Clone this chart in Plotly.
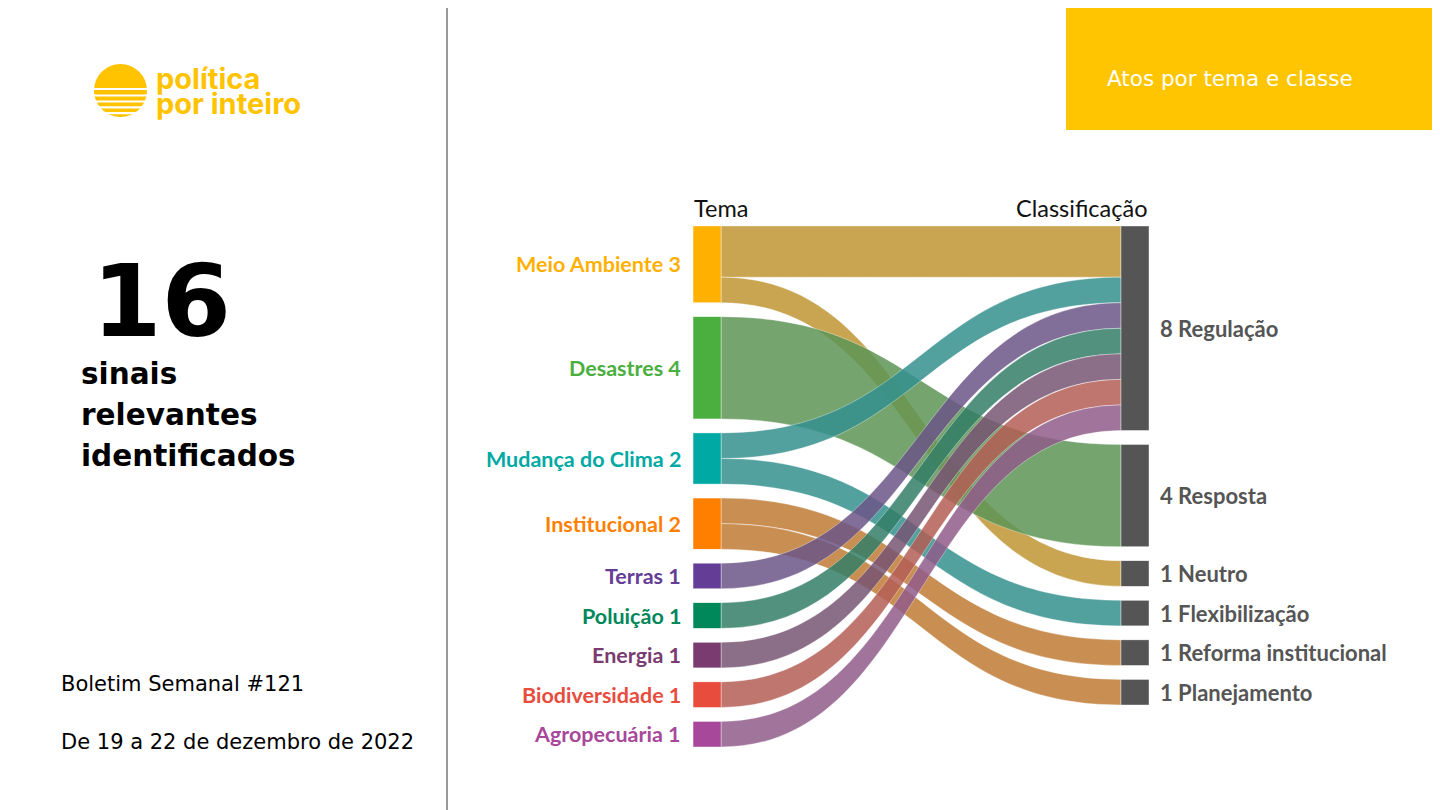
import plotly.graph_objects as go

# page offset of the plot div (browser body margin) and figure size
OFF = 8
W, H = 1440 - OFF, 810 - OFF

# ---------------- data ----------------
temas = ["Meio Ambiente", "Desastres", "Mudança do Clima", "Institucional", "Terras",
         "Poluição", "Energia", "Biodiversidade", "Agropecuária"]
tema_cores = ["#FFB000", "#4AAF3E", "#00A9A3", "#FF7F00", "#643D96",
              "#00875A", "#7A3C70", "#E84C3D", "#A8489A"]
classes = ["Regulação", "Resposta", "Neutro", "Flexibilização",
           "Reforma institucional", "Planejamento"]
classe_cor = "#555555"

link_source = ["Meio Ambiente", "Meio Ambiente", "Desastres", "Mudança do Clima", "Mudança do Clima",
               "Institucional", "Institucional", "Terras", "Poluição", "Energia",
               "Biodiversidade", "Agropecuária"]
link_target = ["Regulação", "Neutro", "Resposta", "Regulação", "Flexibilização",
               "Reforma institucional", "Planejamento", "Regulação", "Regulação", "Regulação",
               "Regulação", "Regulação"]
link_value = [2, 1, 4, 1, 1, 1, 1, 1, 1, 1, 1, 1]

total_sinais = 16

# ---------------- helpers ----------------
def fx(px):
    return (px - OFF) / W

def fy(py):
    return 1 - (py - OFF) / H

def hex_rgb(hexc):
    hexc = hexc.lstrip("#")
    return int(hexc[0:2], 16), int(hexc[2:4], 16), int(hexc[4:6], 16)

def blend(hexc, gray=116, k=0.55, a=0.85):
    r, g, b = hex_rgb(hexc)
    mix = [round(k * c + (1 - k) * gray) for c in (r, g, b)]
    return f"rgba({mix[0]},{mix[1]},{mix[2]},{a})"

nodes = temas + classes
idx = {n: i for i, n in enumerate(nodes)}
totals = {n: 0 for n in nodes}
for s, t, v in zip(link_source, link_target, link_value):
    totals[s] += v
    totals[t] += v

# sankey geometry (pixels)
thick = 28
pad = 14
col_left_c, col_right_c = 707, 1135
top_px, bot_px = 226, 747
Hd = bot_px - top_px
ky = (Hd - (len(temas) - 1) * pad) / sum(totals[t] for t in temas)

def column_centers(names):
    out = []
    y = 0
    for n in names:
        h = totals[n] * ky
        out.append(y + h / 2)
        y += h + pad
    return out

left_c = column_centers(temas)
right_c = column_centers(classes)

node_x = [1e-4] * len(temas) + [1.0] * len(classes)
node_y = [c / Hd for c in left_c] + [c / Hd for c in right_c]
node_colors = tema_cores + [classe_cor] * len(classes)

link_colors = [blend(tema_cores[temas.index(s)]) for s in link_source]

fig = go.Figure()
fig.add_trace(go.Sankey(
    arrangement="fixed",
    domain=dict(x=[fx(col_left_c), fx(col_right_c)], y=[fy(bot_px), fy(top_px)]),
    node=dict(
        label=[""] * len(nodes),
        customdata=nodes,
        hovertemplate="%{customdata}: %{value}<extra></extra>",
        x=node_x, y=node_y,
        pad=pad, thickness=thick,
        color=node_colors,
        line=dict(color="rgba(255,255,255,0.8)", width=0.5),
    ),
    link=dict(
        source=[idx[s] for s in link_source],
        target=[idx[t] for t in link_target],
        value=link_value,
        color=link_colors,
        line=dict(color="rgba(255,255,255,0.7)", width=0.5),
    ),
))

LBL = "Lato"
annotations = []
# node labels
for n, c, col in zip(temas, left_c, tema_cores):
    annotations.append(dict(
        x=fx(col_left_c - thick / 2 - 10), y=fy(top_px + c), xref="paper", yref="paper",
        text=f"<b>{n} {totals[n]}</b>", showarrow=False, xanchor="right", yanchor="middle",
        font=dict(family=LBL, size=21.5, color=col)))
for n, c in zip(classes, right_c):
    annotations.append(dict(
        x=fx(col_right_c + thick / 2 + 9), y=fy(top_px + c), xref="paper", yref="paper",
        text=f"<b>{totals[n]} {n}</b>", showarrow=False, xanchor="left", yanchor="middle",
        font=dict(family=LBL, size=22, color=classe_cor)))
# column headers
annotations.append(dict(x=fx(col_left_c - thick / 2 - 1), y=fy(208), xref="paper", yref="paper",
                        text="Tema", showarrow=False, xanchor="left", yanchor="middle",
                        font=dict(family=LBL, size=23.5, color="#111111")))
annotations.append(dict(x=fx(col_right_c + thick / 2 + 1), y=fy(208), xref="paper", yref="paper",
                        text="Classificação", showarrow=False, xanchor="right", yanchor="middle",
                        font=dict(family=LBL, size=23.5, color="#111111")))
# left panel
annotations.append(dict(x=fx(161), y=fy(302), xref="paper", yref="paper",
                        text=f"<b>{total_sinais}</b>", showarrow=False, xanchor="center", yanchor="middle",
                        font=dict(family="DejaVu Sans", size=100, color="#000000")))
for txt, yy in [("sinais", 374), ("relevantes", 415), ("identificados", 456)]:
    annotations.append(dict(x=fx(79), y=fy(yy), xref="paper", yref="paper",
                            text=f"<b>{txt}</b>", showarrow=False, xanchor="left", yanchor="middle",
                            font=dict(family="DejaVu Sans", size=29.5, color="#000000")))
annotations.append(dict(x=fx(59), y=fy(684), xref="paper", yref="paper",
                        text="Boletim Semanal #121", showarrow=False, xanchor="left", yanchor="middle",
                        font=dict(family="DejaVu Sans", size=21, color="#000000")))
annotations.append(dict(x=fx(59), y=fy(742), xref="paper", yref="paper",
                        text="De 19 a 22 de dezembro de 2022", showarrow=False, xanchor="left", yanchor="middle",
                        font=dict(family="DejaVu Sans", size=21, color="#000000")))
# logo text
annotations.append(dict(x=fx(154), y=fy(79), xref="paper", yref="paper",
                        text="<b>política</b>", showarrow=False, xanchor="left", yanchor="middle",
                        font=dict(family="Inter", size=29, color="#FFC300")))
annotations.append(dict(x=fx(154), y=fy(103), xref="paper", yref="paper",
                        text="<b>por inteiro</b>", showarrow=False, xanchor="left", yanchor="middle",
                        font=dict(family="Inter", size=29, color="#FFC300")))
# header box text
annotations.append(dict(x=fx(1105), y=fy(79), xref="paper", yref="paper",
                        text="Atos por tema e classe", showarrow=False, xanchor="left", yanchor="middle",
                        font=dict(family="DejaVu Sans", size=21.5, color="#FFFFFF")))

shapes = [
    dict(type="rect", xref="paper", yref="paper", x0=fx(1066), x1=fx(1445), y0=fy(130), y1=fy(-5),
         fillcolor="#FFC500", line=dict(width=0), layer="below"),
    dict(type="line", xref="paper", yref="paper", x0=fx(447), x1=fx(447), y0=-0.02, y1=1.02,
         line=dict(color="#999999", width=2)),
    dict(type="circle", xref="paper", yref="paper", x0=fx(94), x1=fx(147), y0=fy(117), y1=fy(64),
         fillcolor="#FFC300", line=dict(width=0)),
]
for sy in [89, 95.5, 101.5, 107.3, 113.2]:
    shapes.append(dict(type="rect", xref="paper", yref="paper", x0=fx(92), x1=fx(149),
                       y0=fy(sy + 1.1), y1=fy(sy - 1.1), fillcolor="#FFFFFF", line=dict(width=0)))

fig.update_layout(
    width=W, height=H,
    margin=dict(l=0, r=0, t=0, b=0),
    paper_bgcolor="#FFFFFF", plot_bgcolor="#FFFFFF",
    annotations=annotations, shapes=shapes,
    font=dict(family="Lato"),
)

fig.write_html("out.html")
